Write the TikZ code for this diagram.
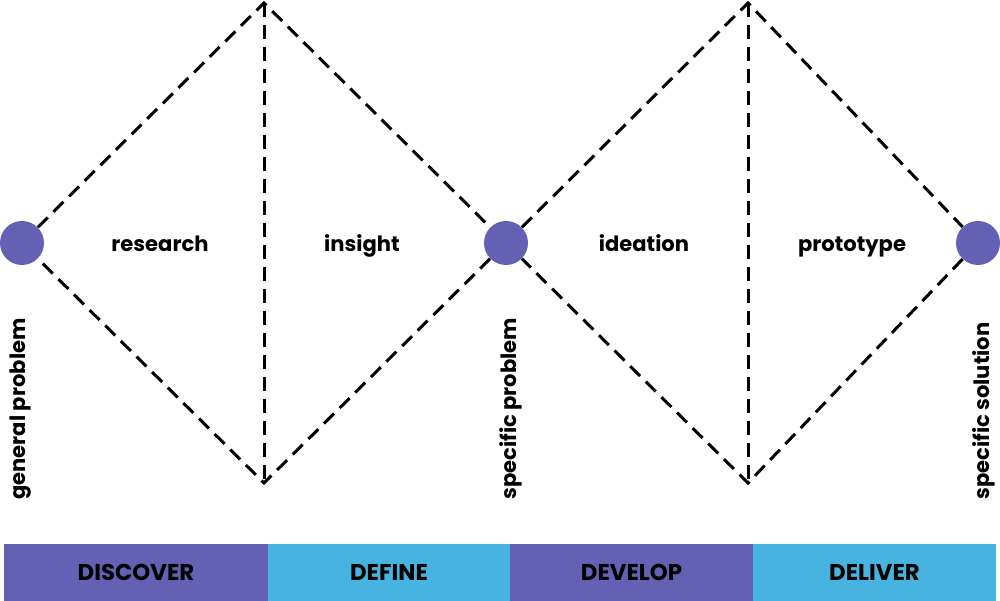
\documentclass[tikz,border=0pt]{standalone}
\usepackage{fontspec}
\setmainfont{Poppins}
\usetikzlibrary{positioning}

\begin{document}
\begin{tikzpicture}[
  stage/.style={shape=circle,fill=dd_purple,minimum size=0.88cm,inner sep=0pt},
  diamondline/.style={dash pattern=on 0.28cm off 0.16cm,line width=0.06cm},
  phase/.style={font=\bfseries\fontsize{12}{14}\selectfont,anchor=base},
  outcome/.style={font=\bfseries\fontsize{12}{14}\selectfont,rotate=90,anchor=west,inner sep=0pt},
  band/.style={shape=rectangle,minimum height=1.14cm,inner sep=0pt,outer sep=0pt,font=\bfseries\fontsize{13}{15}\selectfont}
]
\definecolor{dd_purple}{RGB}{100,97,180}
\definecolor{dd_blue}{RGB}{71,179,224}
\useasboundingbox (0,0) rectangle (20,12.02);

% diamond corners
\coordinate (top1) at (5.28,11.96);
\coordinate (bot1) at (5.28,2.36);
\coordinate (top2) at (14.96,11.96);
\coordinate (bot2) at (14.96,2.36);

% stages
\node[stage] (gp) at (0.44,7.16) {};
\node[stage] (sp) at (10.12,7.16) {};
\node[stage] (ss) at (19.56,7.16) {};

% the two diamonds
\draw[diamondline] (gp) -- (top1) -- (sp) -- (bot1) -- (gp);
\draw[diamondline] (top1) -- (bot1);
\draw[diamondline] (sp) -- (top2) -- (ss) -- (bot2) -- (sp);
\draw[diamondline] (top2) -- (bot2);

% phases
\node[phase] (research) at (3.2,6.98) {research};
\node[phase] (insight) at (7.24,6.98) {insight};
\node[phase] (ideation) at (12.88,6.98) {ideation};
\node[phase] (prototype) at (17.04,6.98) {prototype};

% outcomes
\node[outcome] (gplabel) at (0.42,2.02) {general problem};
\node[outcome] (splabel) at (10.22,2.02) {specific problem};
\node[outcome] (sslabel) at (19.68,2.02) {specific solution};

% bands
\node[band,fill=dd_purple,minimum width=5.28cm,anchor=south west] (discover) at (0.08,0) {DISCOVER};
\node[band,fill=dd_blue,minimum width=4.84cm,right=0pt of discover] (define) {DEFINE};
\node[band,fill=dd_purple,minimum width=4.86cm,right=0pt of define] (develop) {DEVELOP};
\node[band,fill=dd_blue,minimum width=4.86cm,right=0pt of develop] (deliver) {DELIVER};
\end{tikzpicture}
\end{document}
